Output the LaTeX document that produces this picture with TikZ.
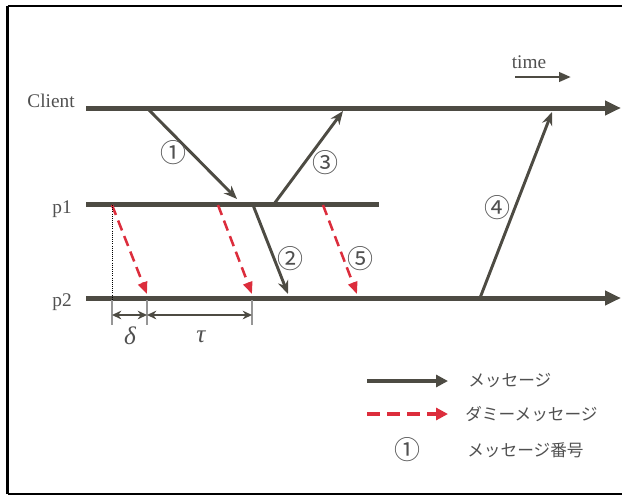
\documentclass[tikz,border=0pt]{standalone}
\usepackage{fontspec}
\setmainfont{Liberation Serif}
\newfontfamily\jpfont{Noto Sans CJK JP}
\usetikzlibrary{arrows.meta}
\definecolor{linegray}{RGB}{77,75,67}
\definecolor{dummyred}{RGB}{220,45,60}
\definecolor{tickgray}{RGB}{150,150,150}
\definecolor{textgray}{RGB}{80,80,80}

\begin{document}
\begin{tikzpicture}[x=0.75pt, y=-0.75pt,
  timeline/.style={line width=3.75pt, draw=linegray},
  msg/.style={line width=2.2pt, draw=linegray, -{Stealth[length=10pt,width=8pt]}},
  dummy/.style={line width=1.9pt, draw=dummyred, dash pattern=on 8pt off 4.5pt, -{Triangle[length=9pt,width=7pt]}},
  dimline/.style={line width=1.6pt, draw=linegray, {Stealth[length=7pt,width=6.5pt]}-{Stealth[length=7pt,width=6.5pt]}},
  num/.style={font=\jpfont\fontsize{19.5}{19.5}\selectfont, text=textgray, inner sep=0pt},
  lbl/.style={font=\fontsize{14.5}{14.5}\selectfont, text=textgray, inner sep=0pt},
  greek/.style={font=\itshape\fontsize{19}{19}\selectfont, text=textgray, inner sep=0pt},
  jp/.style={font=\jpfont\fontsize{12.5}{12.5}\selectfont, text=textgray, inner sep=0pt, anchor=west}]
\useasboundingbox (0,0) rectangle (622,497);
% frame
\draw[line width=2.2pt] (7.7,494) -- (7.7,6);
\draw[line width=1.5pt] (7.7,6) -- (622,6);
\draw[line width=1.6pt] (7.7,494) -- (622,494);
% time lines
\node[lbl, anchor=base east] (client) at (75,107) {Client};
\node[lbl, anchor=base east] (p1) at (72,213) {p1};
\node[lbl, anchor=base east] (p2) at (72,306) {p2};
\coordinate (c0) at (86,108); \coordinate (c1) at (621,108);
\coordinate (a0) at (86,204); \coordinate (a1) at (379,204);
\coordinate (b0) at (86,298); \coordinate (b1) at (621,298);
\draw[timeline, -{Triangle[length=12pt,width=10.5pt]}] (c0) -- (c1);
\draw[timeline] (a0) -- (a1);
\draw[timeline, -{Triangle[length=12pt,width=10.5pt]}] (b0) -- (b1);
\node[lbl, anchor=base] (time) at (529,68) {time};
\coordinate (t0) at (515,77); \coordinate (t1) at (571,77);
\draw[line width=2.2pt, draw=linegray, -{Triangle[length=9pt,width=7pt]}] (t0) -- (t1);
% messages
\coordinate (s1) at (148,109); \coordinate (r1) at (237,199);
\coordinate (s2) at (253,205); \coordinate (r2) at (288,294);
\coordinate (s3) at (274,204); \coordinate (r3) at (343,111);
\coordinate (s4) at (480,298); \coordinate (r4) at (552,112);
\draw[msg] (s1) -- (r1);
\draw[msg] (s2) -- (r2);
\draw[msg] (s3) -- (r3);
\draw[msg] (s4) -- (r4);
\node[num] (n1) at (173,153) {①};
\node[num] (n2) at (290,259) {②};
\node[num] (n3) at (325,163) {③};
\node[num] (n4) at (497,208) {④};
\node[num] (n5) at (360,259) {⑤};
% dummy messages
\coordinate (ds1) at (112,205); \coordinate (dr1) at (147,294);
\coordinate (ds2) at (218,205); \coordinate (dr2) at (252,294);
\coordinate (ds3) at (323,205); \coordinate (dr3) at (357,294);
\draw[dummy] (ds1) -- (dr1);
\draw[dummy] (ds2) -- (dr2);
\draw[dummy] (ds3) -- (dr3);
% delta and tau
\coordinate (k0) at (112,300); \coordinate (k1) at (147,300); \coordinate (k2) at (252,300);
\draw[densely dotted, line width=0.6pt] (ds1) -- (k0);
\draw[tickgray, line width=1.2pt] (k0) -- ++(0,25);
\draw[tickgray, line width=1.2pt] (k1) -- ++(0,25);
\draw[tickgray, line width=1.2pt] (k2) -- ++(0,25);
\coordinate (d0) at (112,315); \coordinate (d1) at (147,315); \coordinate (d2) at (252,315);
\draw[dimline] (d0) -- (d1);
\draw[dimline] (d1) -- (d2);
\node[greek] (delta) at (130,336) {δ};
\node[greek] (tau) at (201,337) {τ};
% legend
\coordinate (l0) at (367,381); \coordinate (l1) at (448,381);
\coordinate (l2) at (367,414); \coordinate (l3) at (448,414);
\draw[line width=3pt, draw=linegray, -{Triangle[length=9pt,width=9pt]}] (l0) -- (l1);
\draw[line width=3pt, draw=dummyred, dash pattern=on 10pt off 5pt, -{Triangle[length=9pt,width=9pt]}] (l2) -- (l3);
\node[num] (nl) at (407,450) {①};
\node[jp] (lmsg) at (468,381) {メッセージ};
\node[jp] (ldummy) at (465,414) {ダミーメッセージ};
\node[jp] (lnum) at (467,450) {メッセージ番号};
\end{tikzpicture}
\end{document}
